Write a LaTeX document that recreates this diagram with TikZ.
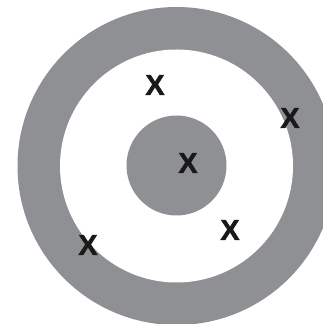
\documentclass[tikz,border=0pt]{standalone}
\usepackage{fontspec}
\newfontfamily\xfont[FakeBold=1.5]{Liberation Sans Bold}
\definecolor{ringgray}{RGB}{143,144,148}
\begin{document}
\begin{tikzpicture}[x=1pt,y=1pt,
  xmark/.style={font=\xfont\fontsize{29}{29}\selectfont, text=black!90, inner sep=0pt}]
\useasboundingbox (0,0) rectangle (323,324);
\clip (0,0) rectangle (323,324);
\fill[white] (0,0) rectangle (323,324);
\fill[ringgray] (176.5,158) circle (159);
\fill[white] (176.5,158) circle (116.5);
\fill[ringgray] (176.5,158.5) circle (50);
\node[xmark] (x1) at (155,239) {X};
\node[xmark] (x2) at (290,206) {X};
\node[xmark] (x3) at (188,161) {X};
\node[xmark] (x4) at (230,94) {X};
\node[xmark] (x5) at (88,79) {X};
\end{tikzpicture}
\end{document}
